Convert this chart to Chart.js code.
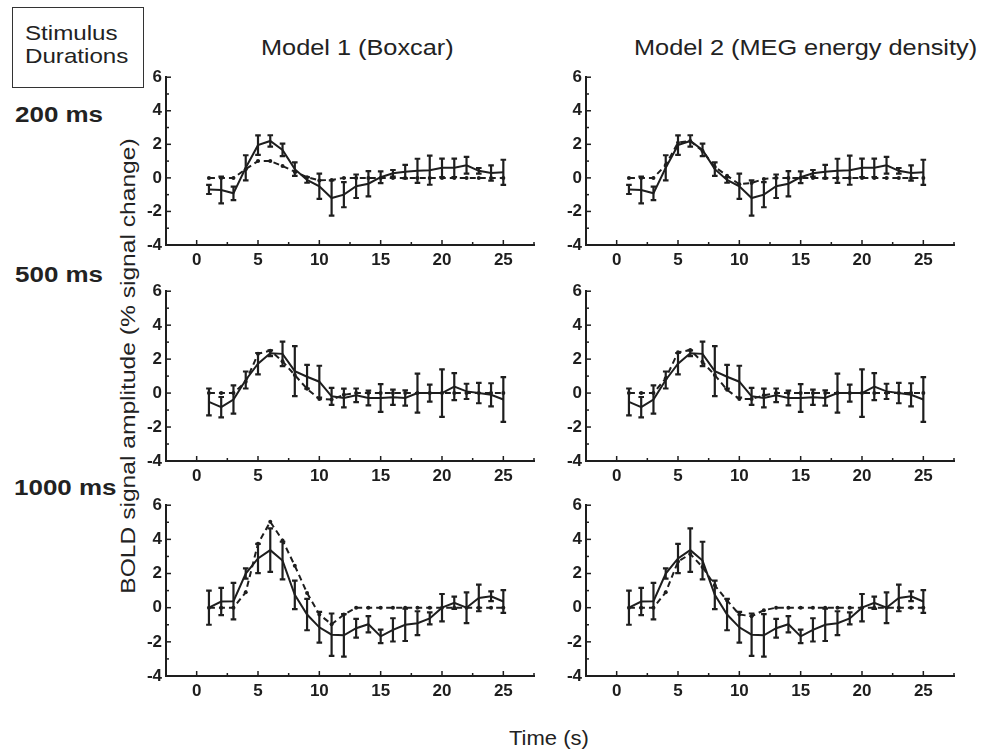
<!DOCTYPE html>
<html><head><meta charset="utf-8">
<script src="https://cdn.jsdelivr.net/npm/chart.js@4.4.0/dist/chart.umd.min.js"></script>
<style>
body{margin:0;background:#fff;width:989px;height:750px;position:relative;overflow:hidden;font-family:'Liberation Sans',Arial,sans-serif;color:#222}
.t{position:absolute;white-space:nowrap;transform-origin:0 0;line-height:1}
.b{font-weight:bold}
canvas{position:absolute}
#box{position:absolute;left:12px;top:7px;width:130px;height:79px;border:1px solid #333}
</style></head><body>
<div id="box"></div>
<div class="t" style="left:25px;top:22px;font-size:21px;transform:scaleX(1.15)">Stimulus</div>
<div class="t" style="left:25px;top:45px;font-size:21px;transform:scaleX(1.15)">Durations</div>
<div class="t b" style="left:15px;top:104px;font-size:22px;transform:scaleX(1.18)">200 ms</div>
<div class="t b" style="left:15px;top:264px;font-size:22px;transform:scaleX(1.18)">500 ms</div>
<div class="t b" style="left:14px;top:477px;font-size:22px;transform:scaleX(1.18)">1000 ms</div>
<div class="t" id="title1" style="top:37px;font-size:22px">Model 1 (Boxcar)</div>
<div class="t" id="title2" style="top:37px;font-size:22px">Model 2 (MEG energy density)</div>
<div class="t" id="ytitle" style="font-size:20px">BOLD signal amplitude (% signal change)</div>
<div class="t" id="xtitle" style="font-size:20px">Time (s)</div>

<canvas id="c1" width="418" height="212" style="left:126px;top:63px"></canvas>
<canvas id="c2" width="418" height="212" style="left:546px;top:63px"></canvas>
<canvas id="c3" width="418" height="214" style="left:126px;top:277px"></canvas>
<canvas id="c4" width="418" height="214" style="left:546px;top:277px"></canvas>
<canvas id="c5" width="418" height="215" style="left:126px;top:491px"></canvas>
<canvas id="c6" width="418" height="215" style="left:546px;top:491px"></canvas>
<script>
// time points (s)
const times = [1,2,3,4,5,6,7,8,9,10,11,12,13,14,15,16,17,18,19,20,21,22,23,24,25];
// observed BOLD data and error bars
const obs200 = [-0.69,-0.72,-0.92,0.6,1.95,2.2,1.67,0.52,-0.12,-0.5,-1.2,-1.0,-0.5,-0.35,0.04,0.27,0.37,0.42,0.46,0.6,0.6,0.75,0.42,0.29,0.33];
const err200 = [0.27,0.8,0.4,0.75,0.58,0.34,0.37,0.4,0.17,0.75,1.05,0.75,0.7,0.75,0.35,0.2,0.4,0.72,0.87,0.55,0.55,0.5,0.17,0.45,0.75];
const obs500 = [-0.52,-0.83,-0.38,0.77,1.73,2.35,2.31,1.29,0.96,0.67,-0.19,-0.29,-0.13,-0.29,-0.29,-0.25,-0.29,0,0,0,0.38,0.1,0,-0.1,-0.38];
const err500 = [0.79,0.6,0.83,0.5,0.63,0.17,0.72,1.47,0.7,0.94,0.5,0.55,0.4,0.43,0.82,0.45,0.45,1.15,0.5,1.4,0.8,0.45,0.6,0.68,1.32];
const obs1000 = [0,0.36,0.38,2.0,2.88,3.37,2.76,0.75,-0.4,-1.15,-1.58,-1.62,-1.2,-0.97,-1.68,-1.3,-1.0,-0.91,-0.63,0,0.29,0,0.57,0.67,0.36];
const err1000 = [1.0,0.8,1.07,0.3,0.86,1.27,1.1,0.83,0.92,0.9,1.24,1.24,0.55,0.48,0.4,0.68,0.95,0.7,0.35,0.8,0.36,0.9,0.78,0.29,0.67];
// model predictions
const box200 = [0,0,0,0.52,1.0,1.0,0.71,0.37,0.04,-0.15,-0.12,0,0,0,0,0,0,0,0,0,0,0,0,0,0];
const meg200 = [0,0,0,0.77,2.1,2.2,1.6,0.65,0.13,-0.38,-0.3,-0.06,0,0,0,0,0,0,0,0,0,0,0,0,0];
const box500 = [0,0,0,0.67,2.31,2.5,1.87,1.06,0.25,-0.35,-0.38,-0.1,0,0,0,0,0,0,0,0,0,0,0,0,0];
const meg500 = [0,0,0,0.87,2.4,2.54,1.83,1.06,0.19,-0.35,-0.35,-0.13,0,0,0,0,0,0,0,0,0,0,0,0,0];
const box1000 = [0,0,0,0.9,3.75,5.03,3.94,2.46,0.86,-0.4,-0.97,-0.4,0,0,0,0,0,0,0,0,0,0,0,0,0];
const meg1000 = [0,0,0,0.9,2.7,3.14,2.38,1.31,0.42,-0.4,-0.5,-0.15,0,0,0,0,0,0,0,0,0,0,0,0,0];
// axis ticks
const xTicks = [0,5,10,15,20,25];
const xMinor = [2.5,7.5,12.5,17.5,22.5,27.5];
const yTicks = [-4,-2,0,2,4,6];
const yMinor = [-3,-1,1,3,5];

const INK = '#1e1e1e';

const errorBars = {
  id:'errorBars',
  afterDatasetsDraw(chart){
    const {ctx, scales:{x,y}} = chart;
    chart.data.datasets.forEach(ds=>{
      if(!ds.errors) return;
      ctx.save(); ctx.strokeStyle = INK; ctx.lineWidth = 2.2;
      ds.data.forEach((p,j)=>{
        const e = ds.errors[j];
        const px = x.getPixelForValue(p.x);
        const y1 = y.getPixelForValue(p.y + e), y2 = y.getPixelForValue(p.y - e);
        ctx.beginPath();
        ctx.moveTo(px,y1); ctx.lineTo(px,y2);
        ctx.moveTo(px-2.8,y1); ctx.lineTo(px+2.8,y1);
        ctx.moveTo(px-2.8,y2); ctx.lineTo(px+2.8,y2);
        ctx.stroke();
      });
      ctx.restore();
    });
  }
};
const inwardTicks = {
  id:'inwardTicks',
  afterDraw(chart){
    const {ctx, chartArea:a, scales:{x,y}} = chart;
    ctx.save(); ctx.strokeStyle = INK; ctx.lineWidth = 1.5;
    const yl = (v,len)=>{const py=y.getPixelForValue(v);ctx.beginPath();ctx.moveTo(a.left,py);ctx.lineTo(a.left+len,py);ctx.stroke();};
    const xl = (v,len)=>{const px=x.getPixelForValue(v);ctx.beginPath();ctx.moveTo(px,a.bottom);ctx.lineTo(px,a.bottom-len);ctx.stroke();};
    yTicks.forEach(v=>yl(v,5)); yMinor.forEach(v=>yl(v,3));
    xTicks.forEach(v=>xl(v,5)); xMinor.forEach(v=>xl(v,3));
    ctx.restore();
  }
};
const tickFont = {family:"'Liberation Sans', Arial, sans-serif", weight:'bold', size:17};

function makePanel(id, obs, err, model){
  new Chart(document.getElementById(id), {
    type:'line',
    data:{datasets:[
      {data: model.map((v,i)=>({x:times[i], y:v})), borderColor:INK, borderWidth:2, borderDash:[6,4],
       pointRadius:2, pointBackgroundColor:INK, pointBorderWidth:0, tension:0},
      {data: obs.map((v,i)=>({x:times[i], y:v})), errors: err, borderColor:INK, borderWidth:2,
       pointRadius:0, tension:0}
    ]},
    options:{
      responsive:false, animation:false, events:[],
      layout:{padding:{top:10,right:10,left:0,bottom:0}},
      plugins:{legend:{display:false}, tooltip:{enabled:false}},
      scales:{
        x:{type:'linear', min:-2.5, max:27.5,
           afterBuildTicks:s=>{s.ticks = xTicks.map(v=>({value:v}));},
           afterFit:s=>{s.height = 30;},
           grid:{display:false, drawTicks:false},
           border:{display:true, color:INK, width:2},
           ticks:{font:tickFont, color:INK, padding:5, autoSkip:false, maxRotation:0}},
        y:{type:'linear', min:-4, max:6,
           afterBuildTicks:s=>{s.ticks = yTicks.map(v=>({value:v}));},
           afterFit:s=>{s.width = 40;},
           grid:{display:false, drawTicks:false},
           border:{display:true, color:INK, width:2},
           ticks:{font:tickFont, color:INK, padding:4, autoSkip:false}}
      }
    },
    plugins:[errorBars, inwardTicks]
  });
}
makePanel('c1', obs200, err200, box200);
makePanel('c2', obs200, err200, meg200);
makePanel('c3', obs500, err500, box500);
makePanel('c4', obs500, err500, meg500);
makePanel('c5', obs1000, err1000, box1000);
makePanel('c6', obs1000, err1000, meg1000);

// place titles (centered, horizontally widened like the source typeface)
function placeCentered(id, cx, sx){
  const el = document.getElementById(id);
  const w = el.getBoundingClientRect().width;
  el.style.left = (cx - w*sx/2) + 'px';
  el.style.transform = 'scaleX(' + sx + ')';
}
placeCentered('title1', 357, 1.15);
placeCentered('title2', 806, 1.15);
placeCentered('xtitle', 549, 1.1);
(function(){
  const el = document.getElementById('ytitle');
  const w = el.getBoundingClientRect().width, h = el.getBoundingClientRect().height;
  const sx = 1.23, cx = 128, cy = 366;
  el.style.transformOrigin = 'center center';
  el.style.left = (cx - w/2) + 'px';
  el.style.top = (cy - h/2) + 'px';
  el.style.transform = 'rotate(-90deg) scaleX(' + sx + ')';
})();
(function(){
  const el = document.getElementById('xtitle');
  el.style.top = '728px';
})();
</script>
</body></html>
